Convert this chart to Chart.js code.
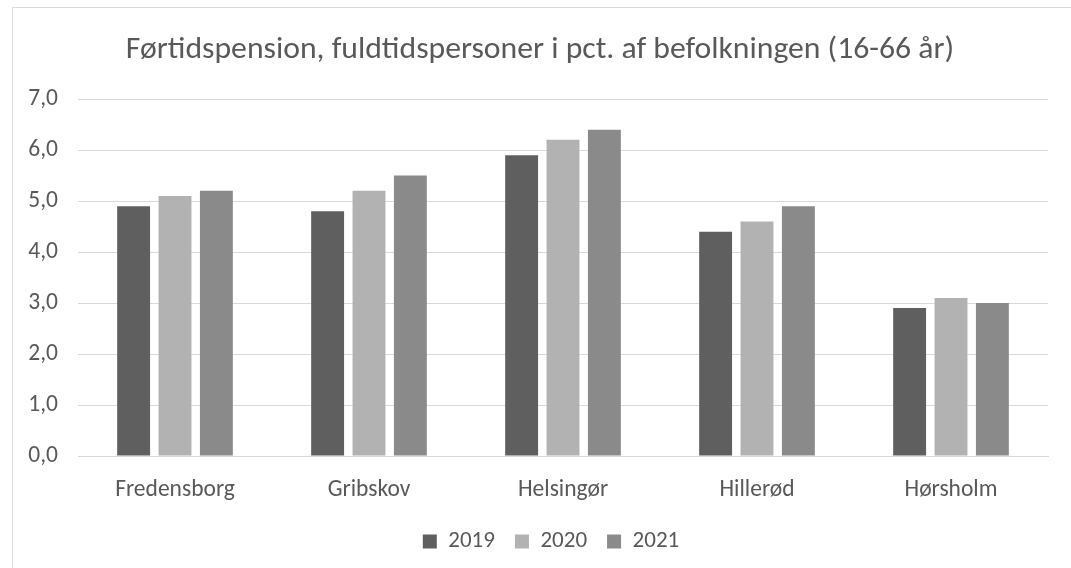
<!DOCTYPE html>
<html>
<head>
<meta charset="utf-8">
<script src="https://cdn.jsdelivr.net/npm/chart.js@4.4.1/dist/chart.umd.min.js"></script>
<style>
  html, body { margin: 0; padding: 0; background: #ffffff; overflow: hidden; }
  #wrap { position: absolute; left: 0; top: 0; width: 1071px; height: 568px; }
</style>
</head>
<body>
<div id="wrap"><canvas id="c" width="1071" height="568"></canvas></div>
<script>
const titleText = 'Førtidspension, fuldtidspersoner i pct. af befolkningen (16-66 år)';
const categories = ['Fredensborg', 'Gribskov', 'Helsingør', 'Hillerød', 'Hørsholm'];
const seriesNames = ['2019', '2020', '2021'];
const values2019 = [4.9, 4.8, 5.9, 4.4, 2.9];
const values2020 = [5.1, 5.2, 6.2, 4.6, 3.1];
const values2021 = [5.2, 5.5, 6.4, 4.9, 3.0];
const seriesColors = ['#5f5f5f', '#b2b2b2', '#8a8a8a'];

const FONT = 'Carlito, Lato, "Open Sans", sans-serif';
const TEXT = '#595959';

const borderPlugin = {
  id: 'outerBorder',
  beforeDraw(chart) {
    const ctx = chart.ctx;
    ctx.save();
    ctx.fillStyle = '#ffffff';
    ctx.fillRect(0, 0, chart.width, chart.height);
    ctx.strokeStyle = '#d9d9d9';
    ctx.lineWidth = 1;
    ctx.beginPath();
    ctx.moveTo(12.5, chart.height + 2);
    ctx.lineTo(12.5, 7.5);
    ctx.lineTo(chart.width + 2, 7.5);
    ctx.stroke();
    ctx.restore();
  }
};

const boxShift = {
  id: 'boxShift',
  afterLayout(chart) {
    const lg = chart.legend;
    if (lg) { lg.left += 27; lg.right += 27; }
    const tt = chart.titleBlock;
    if (tt) { tt.left += 16; tt.right += 16; }
  }
};

const data = {
  labels: categories,
  datasets: [
    { label: seriesNames[0], data: values2019, backgroundColor: seriesColors[0] },
    { label: seriesNames[1], data: values2020, backgroundColor: seriesColors[1] },
    { label: seriesNames[2], data: values2021, backgroundColor: seriesColors[2] }
  ]
};

new Chart(document.getElementById('c'), {
  type: 'bar',
  data,
  plugins: [borderPlugin, boxShift],
  options: {
    responsive: false,
    animation: false,
    devicePixelRatio: 1,
    datasets: { bar: { categoryPercentage: 0.64, barPercentage: 0.795, borderWidth: 0 } },
    layout: { padding: { left: 0, right: 23, top: 0, bottom: 5 } },
    plugins: {
      title: {
        display: true,
        text: titleText,
        color: TEXT,
        font: { family: FONT, size: 31.7, weight: 'normal' },
        padding: { top: 31, bottom: 30 }
      },
      legend: {
        display: true,
        position: 'bottom',
        labels: {
          color: TEXT,
          font: { family: FONT, size: 23 },
          boxWidth: 14,
          boxHeight: 14,
          padding: 20
        }
      },
      tooltip: { enabled: false }
    },
    scales: {
      x: {
        grid: { display: false, drawTicks: false },
        border: { display: true, color: '#d9d9d9', width: 1 },
        ticks: { color: TEXT, font: { family: FONT, size: 23.5 }, padding: 20, maxRotation: 0 },
        afterFit(scale) { scale.height = 54; }
      },
      y: {
        min: 0,
        max: 7,
        grid: { color: '#d9d9d9', lineWidth: 1, drawTicks: false },
        border: { display: false },
        ticks: {
          stepSize: 1,
          color: TEXT,
          font: { family: FONT, size: 23.5 },
          padding: 20,
          callback: (v) => Number(v).toFixed(1).replace('.', ',')
        },
        afterFit(scale) { scale.width = 78; }
      }
    }
  }
});
</script>
</body>
</html>
